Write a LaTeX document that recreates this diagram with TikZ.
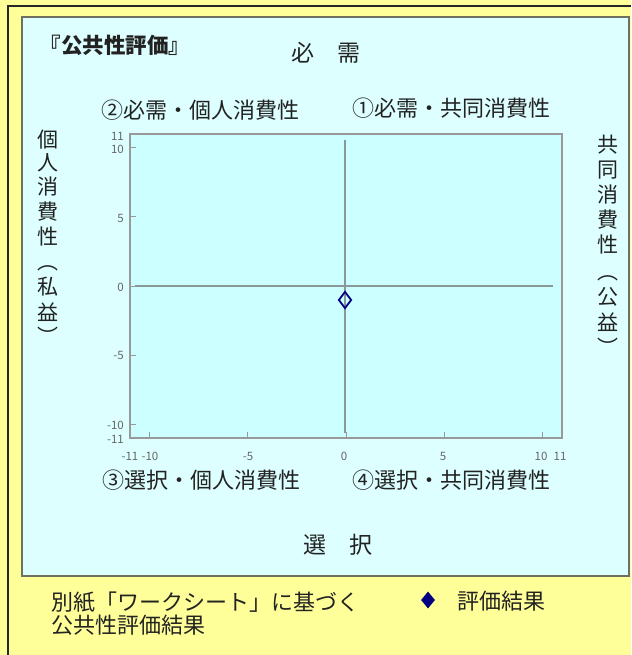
\documentclass[tikz,border=0pt]{standalone}
\usepackage{fontspec}
\setmainfont{Noto Sans CJK JP}
\usetikzlibrary{shapes.geometric}
\definecolor{yellowbg}{HTML}{FFFF99}
\definecolor{panelcyan}{HTML}{DDFFFF}
\definecolor{plotcyan}{HTML}{CCFFFF}
\definecolor{panelborder}{HTML}{707060}
\definecolor{plotborder}{HTML}{999999}
\definecolor{axisgray}{HTML}{8A9898}
\definecolor{navymark}{HTML}{000080}
\definecolor{inkdark}{HTML}{222222}
\begin{document}
\begin{tikzpicture}[x=1pt,y=-1pt,
  lbl/.style={inner sep=0pt, text=inkdark, font=\fontsize{22}{26}\selectfont},
  biglbl/.style={inner sep=0pt, text=inkdark, font=\fontsize{23}{26}\selectfont},
  vch/.style={inner sep=0pt, text=inkdark, font=\fontsize{21}{24}\selectfont},
  tlbl/.style={inner sep=0pt, text=black!60, font=\fontsize{11.5}{12}\selectfont},
  axisline/.style={draw=axisgray, line width=1.5pt},
  tickmark/.style={draw=plotborder, line width=1pt},
  markhollow/.style={diamond, draw=navymark, line width=1.8pt, inner sep=0pt, minimum width=13pt, minimum height=17pt},
  markfilled/.style={diamond, fill=navymark, inner sep=0pt, minimum width=14pt, minimum height=17pt}]
\useasboundingbox (0,0) rectangle (631,655);
\fill[yellowbg] (0,0) rectangle (631,655);
\draw[line width=2pt, black!85] (8,655) -- (8,6) -- (631,6);
\draw[fill=panelcyan, draw=panelborder, line width=1.5pt] (22,17) rectangle (629,576);
% plot area
\draw[fill=plotcyan, draw=plotborder, line width=2pt] (130,134) rectangle (562,438);
% axes
\coordinate (hl) at (135,286);
\coordinate (hr) at (553,286);
\coordinate (vt) at (345,140);
\coordinate (vb) at (345,433);
\draw[axisline] (hl) -- (hr);
\draw[axisline] (vt) -- (vb);
% ticks
\foreach \v in {10,5,0,-5,-10} {
  \draw[tickmark] (131,{286-13.82*\v}) -- (136,{286-13.82*\v});
  \draw[tickmark] ({346+19.64*\v},437) -- ({346+19.64*\v},432);
}
% y tick labels
\node[tlbl, anchor=east] (y11) at (124,136) {11};
\node[tlbl, anchor=east] (y10) at (124,149) {10};
\node[tlbl, anchor=east] (y5) at (124,218) {5};
\node[tlbl, anchor=east] (y0) at (124,287) {0};
\node[tlbl, anchor=east] (ym5) at (124,355) {-5};
\node[tlbl, anchor=east] (ym10) at (124,425) {-10};
\node[tlbl, anchor=east] (ym11) at (124,439) {-11};
% x tick labels
\node[tlbl] (xm11) at (130,456) {-11};
\node[tlbl] (xm10) at (150,456) {-10};
\node[tlbl] (xm5) at (248,456) {-5};
\node[tlbl] (x0) at (344,456) {0};
\node[tlbl] (x5) at (443,456) {5};
\node[tlbl] (x10) at (541,456) {10};
\node[tlbl] (x11) at (560,456) {11};
% marker
\node[markhollow] (res) at (345,300) {};
% titles
\node[inner sep=0pt, text=inkdark, font=\fontsize{21.5}{24}\selectfont\bfseries] (title) at (115,45) {『公共性評価』};
\node[biglbl] (hitsuju) at (326,53) {必　需};
\node[biglbl] (sentaku) at (338,545) {選　択};
\node[lbl] (q2) at (200,110) {②必需・個人消費性};
\node[lbl] (q1) at (451,108) {①必需・共同消費性};
\node[lbl] (q3) at (201,480) {③選択・個人消費性};
\node[lbl] (q4) at (451,480) {④選択・共同消費性};
% vertical left
\foreach \c/\yy [count=\i] in {個/140,人/163,消/187,費/212,性/237,私/287,益/312} {
  \node[vch] (L\i) at (48,\yy) {\c};
}
\node[vch, anchor=base] (Lpo) at (48,269.5) {︵};
\node[vch, anchor=base] (Lpc) at (48,344.5) {︶};
% vertical right
\foreach \c/\yy [count=\i] in {共/145,同/170,消/195,費/220,性/245,公/297,益/322} {
  \node[vch] (R\i) at (608,\yy) {\c};
}
\node[vch, anchor=base] (Rpo) at (608,279) {︵};
\node[vch, anchor=base] (Rpc) at (608,355) {︶};
% bottom notes
\node[lbl, anchor=west] (note1) at (51,602) {別紙「ワークシート」に基づく};
\node[lbl, anchor=west] (note2) at (51,625) {公共性評価結果};
\node[markfilled] (legmark) at (428,600) {};
\node[lbl, anchor=west] (legtext) at (457,601) {評価結果};
\end{tikzpicture}
\end{document}
